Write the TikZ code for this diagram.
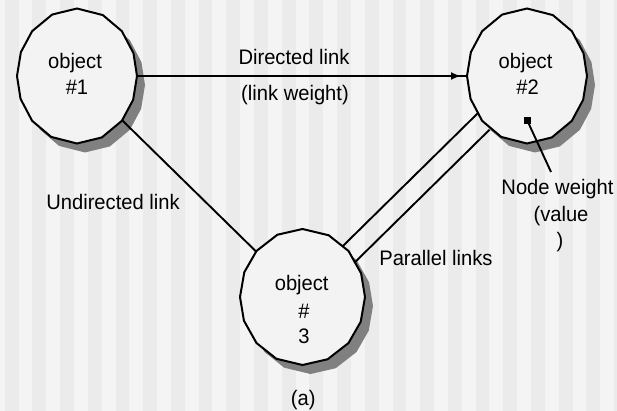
\documentclass[tikz,border=0pt]{standalone}
\usepackage{fontspec}
\setmainfont{Liberation Sans}[FakeStretch=0.96]
\usetikzlibrary{shapes.geometric,calc,arrows.meta,decorations.markings}
\definecolor{bglight}{HTML}{F4F4F4}
\definecolor{bgdark}{HTML}{EBEBEB}
\definecolor{objfill}{HTML}{F3F3F3}
\definecolor{shadowgray}{HTML}{808080}
\newcommand\objpoly[2]{%
  \path[#2] (#1.0) -- (#1.22.5) -- (#1.45) -- (#1.67.5) -- (#1.90) -- (#1.112.5)
    -- (#1.135) -- (#1.157.5) -- (#1.180) -- (#1.202.5) -- (#1.225) -- (#1.247.5)
    -- (#1.270) -- (#1.292.5) -- (#1.315) -- (#1.337.5) -- cycle;}
\begin{document}
\begin{tikzpicture}[x=1pt,y=-1pt,
  every node/.style={font=\fontsize{21}{26.5}\selectfont, inner sep=0pt, outer sep=0pt},
  objshape/.style 2 args={ellipse, minimum width=#1, minimum height=#2, draw=none},
  objtext/.style={anchor=base},
  link/.style={line width=1.9pt, black},
  outline/.style={draw=black, line width=2pt, fill=objfill, line join=miter},
  shadowstyle/.style={fill=shadowgray, transform canvas={xshift=8pt, yshift=-9pt}}]
\path[use as bounding box] (0,0) rectangle (617,411);
% background stripes
\fill[bglight] (0,0) rectangle (617,411);
\foreach \k in {0,...,22}
  \fill[bgdark] ({4.7+27.7*\k},0) rectangle ({min(18.55+27.7*\k,617)},411);
% object nodes (shapes)
\node[objshape={120pt}{135pt}] (o1) at (77,76) {};
\node[objshape={120pt}{135pt}] (o2) at (527,76) {};
\node[objshape={125pt}{136pt}] (o3) at (302.5,297) {};
% shadows and outlines
\objpoly{o1}{shadowstyle}
\objpoly{o2}{shadowstyle}
\objpoly{o3}{shadowstyle}
\objpoly{o1}{outline}
\objpoly{o2}{outline}
\objpoly{o3}{outline}
% texts in objects
\node[objtext] (o1a) at (75,68.3) {object};
\node[objtext] (o1b) at (77,95) {\#1};
\node[objtext] (o2a) at (525.5,68.3) {object};
\node[objtext] (o2b) at (527.5,95) {\#2};
\node[objtext] (o3a) at (301.7,290) {object};
\node[objtext] (o3b) at (304,318) {\#};
\node[objtext] (o3c) at (304,343.3) {3};
% directed link
\draw[link, postaction={decorate},
  decoration={markings, mark=at position -6pt with {\arrow{Latex[length=10pt,width=8pt]}}}]
  (o1) -- (o2);
\node[objtext] (dl) at (294,64.3) {Directed link};
\node[objtext] (lw) at (295,100.6) {(link weight)};
% undirected link
\draw[link] (o1) -- (o3);
\node[objtext] (ul) at (113,209.3) {Undirected link};
% parallel links
\coordinate (pu3) at ($(o3.center)!8pt!90:(o2.center)$);
\coordinate (pu2) at ($(o2.center)!8pt!-90:(o3.center)$);
\coordinate (pl3) at ($(o3.center)!12pt!-90:(o2.center)$);
\coordinate (pl2) at ($(o2.center)!12pt!90:(o3.center)$);
\draw[link, shorten <=63.6pt, shorten >=61.6pt] (pu3) -- (pu2);
\draw[link, shorten <=60.9pt, shorten >=64.3pt] (pl3) -- (pl2);
\node[anchor=base west] (pl) at (379.3,265) {Parallel links};
% node weight
\node[fill=black, minimum size=7pt, inner sep=0pt] (nw) at (527.5,121) {};
\coordinate (nwend) at (551,172);
\draw[link] (nw.center) -- (nwend);
\node[objtext] (nwa) at (557.5,194.3) {Node weight};
\node[objtext] (nwb) at (561,221.6) {(value};
\node[objtext] (nwc) at (560,247.5) {)};
% caption
\node[objtext] (cap) at (303.3,405.6) {(a)};
\end{tikzpicture}
\end{document}
